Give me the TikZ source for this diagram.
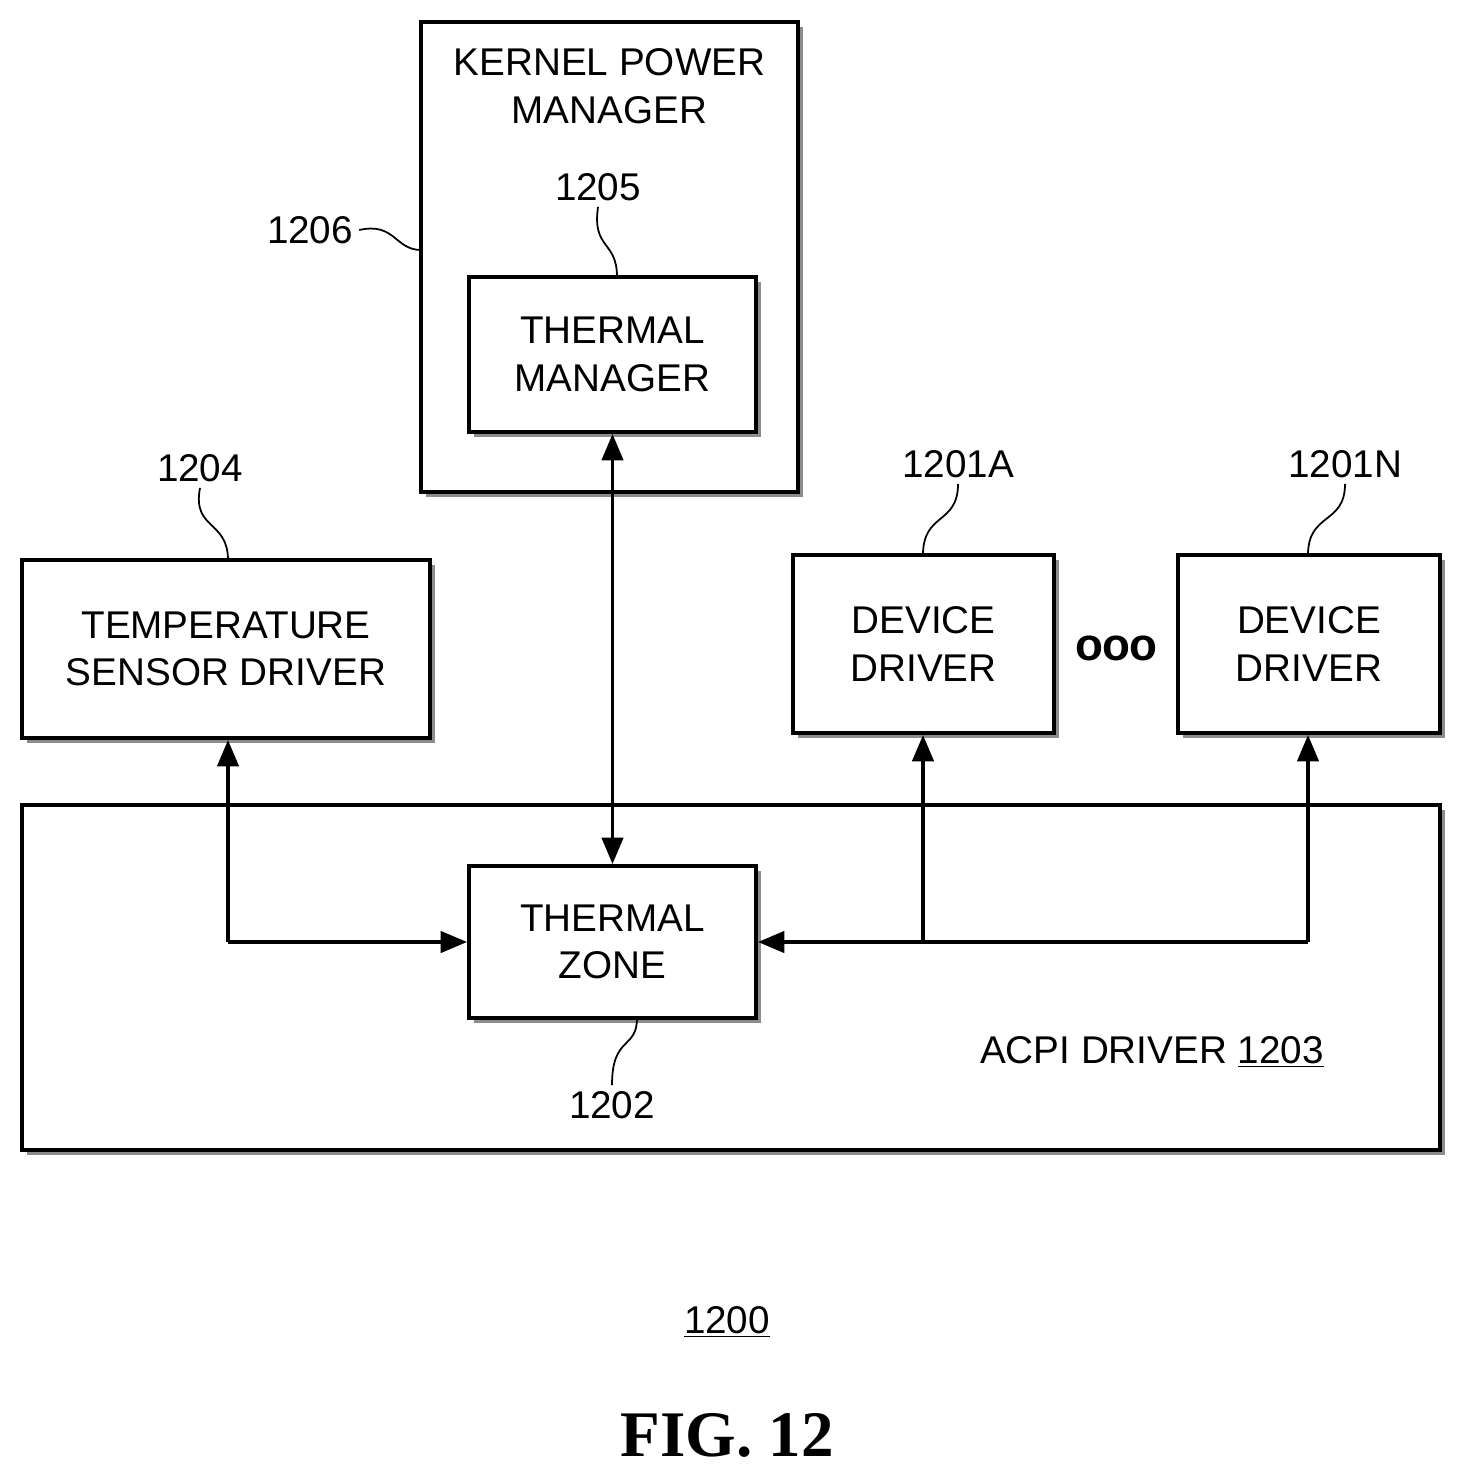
\documentclass[tikz,border=0pt]{standalone}
\usepackage{fontspec}
\setmainfont{Liberation Sans}
\newfontfamily\figfont{Liberation Serif}
\usetikzlibrary{shadows,arrows.meta}
\tikzset{
    blockbox/.style = {
        draw=black,
        line width=2.2pt,
        fill=white,
        align=center,
        font=\fontsize{22}{27}\selectfont,
        drop shadow={shadow xshift=3pt, shadow yshift=-3pt, fill=black!45, opacity=1}
    },
    reflabel/.style = {
        font=\fontsize{22}{27}\selectfont
    },
    leader/.style = {
        line width=1pt
    },
    flow/.style = {
        line width=2.2pt,
        -{Triangle[length=15pt,width=12pt]}
    },
    biflow/.style = {
        flow,
        {Triangle[length=15pt,width=12pt]}-{Triangle[length=15pt,width=12pt]}
    }
}
\begin{document}
\begin{tikzpicture}[x=0.02cm,y=-0.02cm]
    \useasboundingbox (0,0) rectangle (1473,1477);
    % boxes
    \node [blockbox, minimum width=7.54cm, minimum height=9.4cm] (kpm) at (609.5,257) {};
    \node [reflabel, align=center, anchor=north] (kpmtext) at (kpm.north) [yshift=-0.45cm] {KERNEL POWER\\MANAGER};
    \node [blockbox, minimum width=5.74cm, minimum height=3.1cm] (tmgr) at (612.5,354.5) {THERMAL\\MANAGER};
    \node [blockbox, minimum width=8.16cm, minimum height=3.56cm] (tsd) at (226,649) {TEMPERATURE\\SENSOR DRIVER};
    \node [blockbox, minimum width=5.22cm, minimum height=3.56cm] (dda) at (923.5,644) {DEVICE\\DRIVER};
    \node [blockbox, minimum width=5.24cm, minimum height=3.56cm] (ddn) at (1309,644) {DEVICE\\DRIVER};
    \node [font=\fontsize{26}{26}\selectfont\bfseries, inner sep=0pt] (dots) at (1116,648) {o\kern-0.5pt o\kern-0.5pt o};
    \node [blockbox, minimum width=28.36cm, minimum height=6.9cm] (acpi) at (731,977.5) {};
    \node [blockbox, minimum width=5.74cm, minimum height=3.04cm] (tzone) at (612.5,942) {THERMAL\\ZONE};
    \node [reflabel] (acpitext) at (1152,1052) {ACPI DRIVER \underline{1203}};
    % connectors
    \coordinate (jtsd) at (228,942);
    \coordinate (jdda) at (923,942);
    \coordinate (jddn) at (1308,942);
    \draw [biflow] (tmgr.south) -- (tzone.north);
    \draw [flow] (jtsd) -- (jtsd |- tsd.south);
    \draw [flow] (jtsd) -- (tzone.west);
    \draw [flow] (jdda) -- (jdda |- dda.south);
    \draw [flow] (jddn) -- (jddn |- ddn.south);
    \draw [flow] (jddn) -- (tzone.east);
    % reference numerals
    \node [reflabel] (n1206) at (310,230) {1206};
    \node [reflabel] (n1205) at (598,187) {1205};
    \node [reflabel] (n1204) at (200,468) {1204};
    \node [reflabel] (n1201a) at (958,464) {1201A};
    \node [reflabel] (n1201n) at (1345,464) {1201N};
    \node [reflabel] (n1202) at (612,1105) {1202};
    \draw [leader] (n1206.east) .. controls (395,222) and (395,250) .. (421,250);
    \draw [leader] (n1205.south) .. controls (592,250) and (617,240) .. (617,277);
    \draw [leader] (n1204.south) .. controls (192,530) and (228,520) .. (228,560);
    \draw [leader] (n1201a.south) .. controls (958,525) and (923,512) .. (923,555);
    \draw [leader] (n1201n.south) .. controls (1345,525) and (1308,512) .. (1308,555);
    \draw [leader] (637,1018) .. controls (637,1050) and (612,1035) .. (n1202.north);
    \node [reflabel] (n1200) at (727,1322) {\underline{1200}};
    \node [font=\figfont\bfseries\fontsize{37}{40}\selectfont] (fig) at (727,1435) {FIG. 12};
\end{tikzpicture}
\end{document}
